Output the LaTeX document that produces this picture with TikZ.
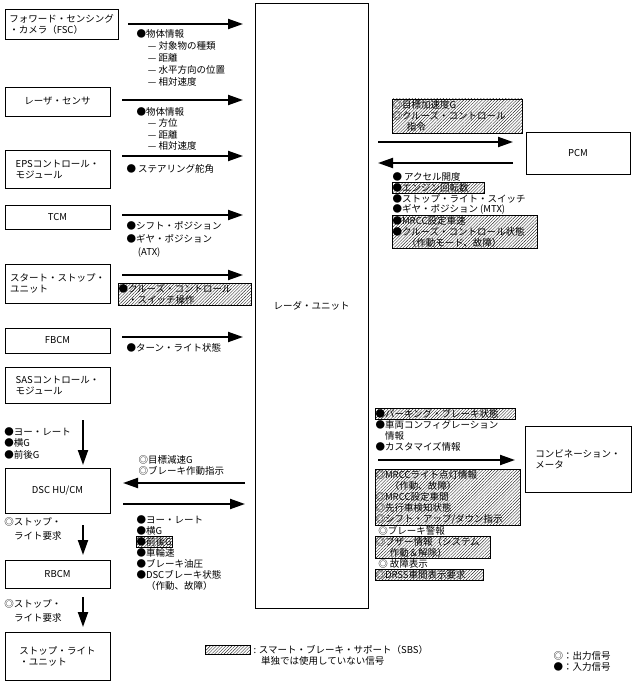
\documentclass[tikz,border=0pt]{standalone}
\usepackage{fontspec}
\setmainfont{Noto Sans CJK JP}
\usetikzlibrary{arrows.meta, positioning, patterns.meta}

\begin{document}
\begin{tikzpicture}[x=1pt, y=-1pt, node distance=0pt, outer sep=0pt,
    every node/.style={font=\fontsize{9.5}{11}\selectfont}]
    \tikzstyle{unit} = [rectangle, draw, line width=0.8pt, anchor=north west, inner sep=2pt]
    \tikzstyle{txt} = [inner sep=0.5pt, align=left, anchor=north west, minimum height=11pt]
    \tikzstyle{sbs} = [txt, draw, line width=0.5pt, pattern={Lines[angle=45, distance=2.2pt, line width=0.4pt]}, pattern color=black!85]
    \tikzstyle{sig} = [line width=2pt, -{Triangle[length=15pt, width=10pt]}]
    \useasboundingbox (0,0) rectangle (634,682);

    % units
    \node[unit, minimum width=113pt, minimum height=30pt, align=left] (fsc) at (5,9) {フォワード・センシング\\・カメラ（FSC）};
    \node[unit, minimum width=105pt, minimum height=29pt] (laser) at (5,87) {レーザ・センサ};
    \node[unit, minimum width=105pt, minimum height=38pt, align=left] (eps) at (5,150) {EPSコントロール・\\モジュール};
    \node[unit, minimum width=105pt, minimum height=24pt] (tcm) at (5,205) {TCM};
    \node[unit, minimum width=105pt, minimum height=39pt, align=left] (ssu) at (5,264) {スタート・ストップ・\\ユニット};
    \node[unit, minimum width=105pt, minimum height=25pt] (fbcm) at (5,328) {FBCM};
    \node[unit, minimum width=105pt, minimum height=36pt, align=left] (sas) at (5,367) {SASコントロール・\\モジュール};
    \node[unit, minimum width=105pt, minimum height=45pt] (dsc) at (5,468) {DSC HU/CM};
    \node[unit, minimum width=105pt, minimum height=28pt] (rbcm) at (5,560) {RBCM};
    \node[unit, minimum width=105pt, minimum height=48pt, align=left] (slu) at (5,632) {ストップ・ライト\\・ユニット};
    \node[unit, minimum width=113pt, minimum height=605pt] (radar) at (255,3) {レーダ・ユニット};
    \node[unit, minimum width=104pt, minimum height=42pt] (pcm) at (526,132) {PCM};
    \node[unit, minimum width=106pt, minimum height=66pt, align=left] (meter) at (525,426) {コンビネーション・\\メータ};

    % inputs to radar unit
    \draw[sig] ([xshift=10pt]fsc.east) -- ([xshift=-12pt]radar.west |- fsc.east);
    \draw[sig] ([xshift=12pt]laser.east |- 0,100) -- ([xshift=-12pt]radar.west |- 0,100);
    \draw[sig] ([xshift=12pt]eps.east |- 0,156) -- ([xshift=-12pt]radar.west |- 0,156);
    \draw[sig] ([xshift=12pt]tcm.east |- 0,215) -- ([xshift=-12pt]radar.west |- 0,215);
    \draw[sig] ([xshift=12pt]ssu.east |- 0,275) -- ([xshift=-12pt]radar.west |- 0,275);
    \draw[sig] ([xshift=12pt]fbcm.east |- 0,337) -- ([xshift=-12pt]radar.west |- 0,337);
    \draw[sig] ([xshift=-10pt]radar.west |- 0,483) -- ([xshift=13pt]dsc.east |- 0,483);
    \draw[sig] ([xshift=13pt]dsc.east |- 0,504) -- ([xshift=-10pt]radar.west |- 0,504);
    \draw[sig] ([xshift=10pt]radar.east |- 0,142) -- ([xshift=-13pt]pcm.west |- 0,142);
    \draw[sig] ([xshift=-13pt]pcm.west |- 0,163) -- ([xshift=10pt]radar.east |- 0,163);
    \draw[sig] ([xshift=10pt]radar.east |- 0,460) -- ([xshift=-10pt]meter.west |- 0,460);
    \draw[sig] ([yshift=-17pt]sas.south -| 83,0) -- ([yshift=3pt]dsc.north -| 83,0);
    \draw[sig] ([yshift=-12pt]dsc.south -| 83,0) -- ([yshift=5pt]rbcm.north -| 83,0);
    \draw[sig] ([yshift=-9pt]rbcm.south -| 83,0) -- ([yshift=5pt]slu.north -| 83,0);

    % signals, left side
    \node[txt, font=\fontsize{9.5}{12}\selectfont] (fscsig) at (136,29) {●物体情報\\\hspace*{1.2em}— 対象物の種類\\\hspace*{1.2em}— 距離\\\hspace*{1.2em}— 水平方向の位置\\\hspace*{1.2em}— 相対速度};
    \node[txt, font=\fontsize{9.5}{11.5}\selectfont] (lasersig) at (136,107) {●物体情報\\\hspace*{1.2em}— 方位\\\hspace*{1.2em}— 距離\\\hspace*{1.2em}— 相対速度};
    \node[txt] (epssig) at (126,163) {● ステアリング舵角};
    \node[txt, font=\fontsize{9.5}{13}\selectfont] (tcmsig) at (126,221) {●シフト・ポジション\\●ギヤ・ポジション\\\hspace*{1.2em}(ATX)};
    \node[sbs, text width=132pt, minimum height=22pt] (ssusig) at (118,283) {●クルーズ・コントロール\\\hspace*{1em}・スイッチ操作};
    \node[txt] (fbcmsig) at (126,342) {●ターン・ライト状態};
    \node[txt, font=\fontsize{9.5}{11.5}\selectfont] (sassig) at (4,427) {●ヨー・レート\\●横G\\●前後G};
    \node[txt] (dscin) at (138,455) {◎目標減速G\\◎ブレーキ作動指示};
    \node[txt] (dsc1) at (136,514) {●ヨー・レート};
    \node[txt, below=0pt of dsc1.south west, anchor=north west] (dsc2) {●横G};
    \node[sbs, below=0pt of dsc2.south west, anchor=north west] (dsc3) {●前後G};
    \node[txt, below=0pt of dsc3.south west, anchor=north west] (dsc4) {●車輪速};
    \node[txt, below=0pt of dsc4.south west, anchor=north west] (dsc5) {●ブレーキ油圧};
    \node[txt, below=0pt of dsc5.south west, anchor=north west, minimum height=22pt] (dsc6) {●DSCブレーキ状態\\\hspace*{1em}（作動、故障）};
    \node[txt, font=\fontsize{9.5}{14}\selectfont] (rbcmsig) at (4,517) {◎ストップ・\\\hspace*{1em}ライト要求};
    \node[txt, font=\fontsize{9.5}{14}\selectfont] (slusig) at (4,599) {◎ストップ・\\\hspace*{1em}ライト要求};

    % signals, right side
    \node[sbs, text width=129pt, minimum height=34pt] (pcmout) at (392,99) {◎目標加速度G\\◎クルーズ・コントロール\\\hspace*{1.5em}指令};
    \node[txt] (pcm1) at (392,171) {● アクセル開度};
    \node[sbs, below=0pt of pcm1.south west, anchor=north west, text width=91pt] (pcm2) {●エンジン回転数};
    \node[txt, below=0pt of pcm2.south west, anchor=north west] (pcm3) {●ストップ・ライト・スイッチ};
    \node[txt, below=0pt of pcm3.south west, anchor=north west] (pcm4) {●ギヤ・ポジション (MTX)};
    \node[sbs, below=0pt of pcm4.south west, anchor=north west, text width=144pt, minimum height=33pt] (pcm5) {●MRCC設定車速\\●クルーズ・コントロール状態\\\hspace*{1.5em}（作動モード、故障）};
    \node[sbs, text width=139pt] (met1) at (375,408) {●パーキング・ブレーキ状態};
    \node[txt, below=0pt of met1.south west, anchor=north west, minimum height=22pt] (met2) {●車両コンフィグレーション\\\hspace*{1em}情報};
    \node[txt, below=0pt of met2.south west, anchor=north west] (met3) {●カスタマイズ情報};
    \node[sbs, text width=144pt, minimum height=56pt] (met4) at (375,469) {◎MRCCライト点灯情報\\\hspace*{1.5em}（作動、故障）\\◎MRCC設定車間\\◎先行車検知状態\\◎シフト・アップ/ダウン指示};
    \node[txt, below=0pt of met4.south west, anchor=north west] (met5) {\hspace*{0.3em}◎ブレーキ警報};
    \node[sbs, below=0pt of met5.south west, anchor=north west, text width=114pt, minimum height=22pt] (met6) {◎ブザー情報（システム\\\hspace*{1.5em}作動＆解除）};
    \node[txt, below=0pt of met6.south west, anchor=north west] (met7) {\hspace*{0.3em}◎ 故障表示};
    \node[sbs, below=0pt of met7.south west, anchor=north west, text width=107pt] (met8) {◎DRSS車間表示要求};

    % legend
    \node[sbs, minimum width=45pt, minimum height=9pt] (legsbs) at (205,645) {};
    \node[txt, right=3pt of legsbs.north east, anchor=north west] (legtxt) {: スマート・ブレーキ・サポート（SBS）\\\hspace*{0.8em}単独では使用していない信号};
    \node[txt] (legsym) at (553,651) {◎：出力信号\\●：入力信号};
\end{tikzpicture}
\end{document}
